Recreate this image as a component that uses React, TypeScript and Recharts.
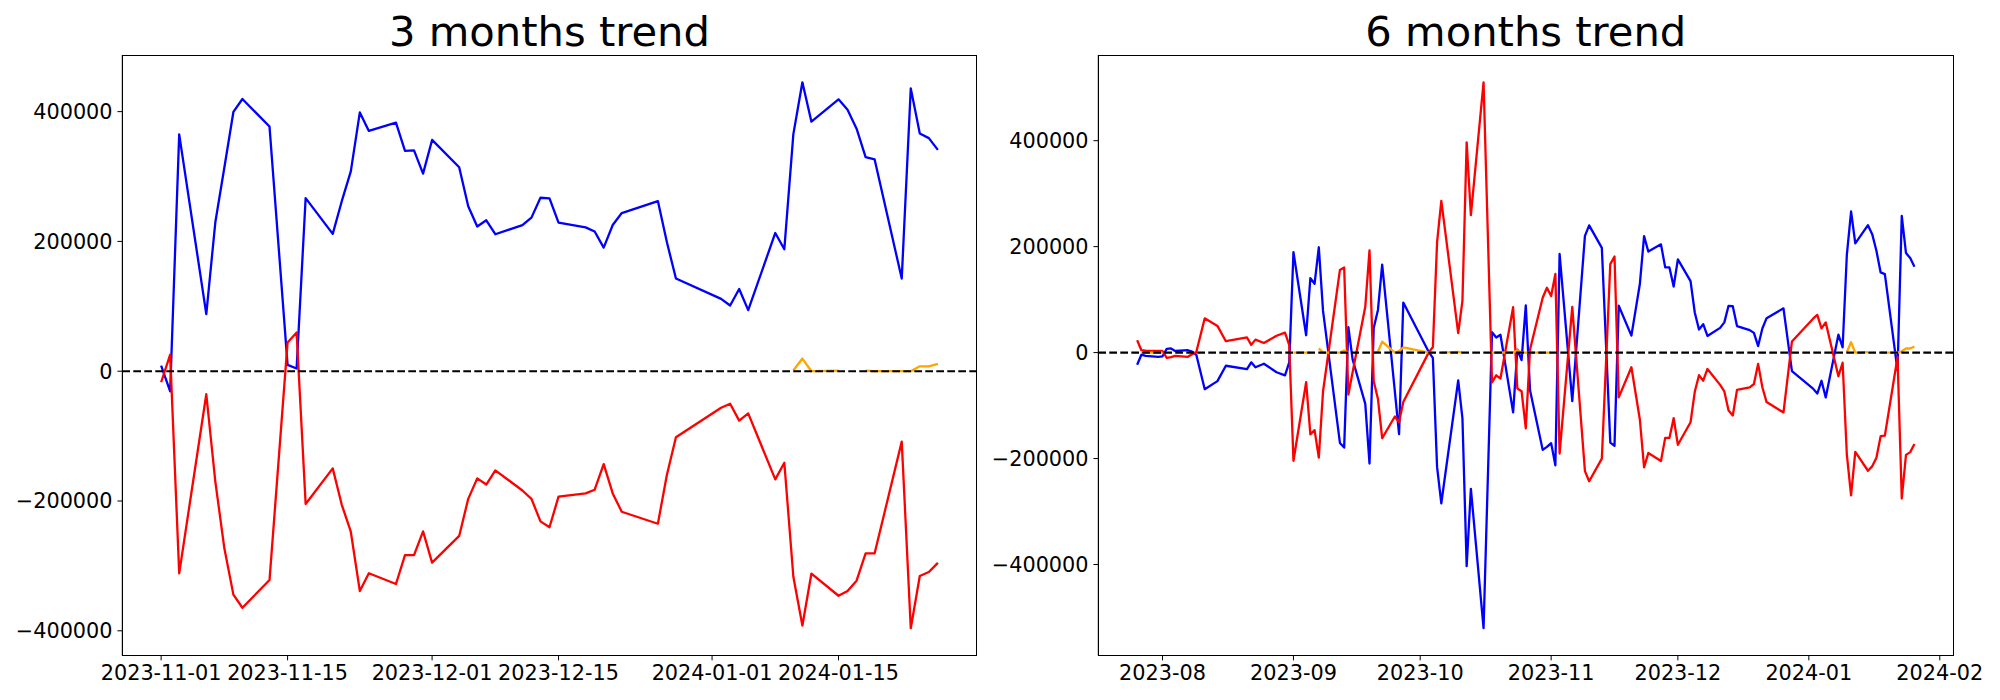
import { LineChart, Line, XAxis, YAxis, ReferenceLine } from "recharts";

// ---- 3 months trend (business days) ----
const dates3m = [
  "2023-11-01", "2023-11-02", "2023-11-03", "2023-11-06", "2023-11-07", "2023-11-08", "2023-11-09",
  "2023-11-10", "2023-11-13", "2023-11-15", "2023-11-16", "2023-11-17", "2023-11-20", "2023-11-21",
  "2023-11-22", "2023-11-23", "2023-11-24", "2023-11-27", "2023-11-28", "2023-11-29", "2023-11-30",
  "2023-12-01", "2023-12-04", "2023-12-05", "2023-12-06", "2023-12-07", "2023-12-08", "2023-12-11",
  "2023-12-12", "2023-12-13", "2023-12-14", "2023-12-15", "2023-12-18", "2023-12-19", "2023-12-20",
  "2023-12-21", "2023-12-22", "2023-12-26", "2023-12-27", "2023-12-28",
  "2024-01-02", "2024-01-03", "2024-01-04", "2024-01-05", "2024-01-08", "2024-01-09", "2024-01-10",
  "2024-01-11", "2024-01-12", "2024-01-15", "2024-01-16", "2024-01-17", "2024-01-18", "2024-01-19",
  "2024-01-22", "2024-01-23", "2024-01-24", "2024-01-25", "2024-01-26",
];
const blue3m = [
  8500, -31000, 365000, 88000, 229500, 314000, 399500, 419500, 377000, 9700, 4200, 266800, 211600,
  262000, 308000, 398800, 370300, 383100, 339600, 340400, 304500,
  356400, 314300, 254300, 223000, 232600, 211100, 225000, 236700, 267300, 266300, 229000, 221700,
  215300, 190500, 225300, 243700, 262100, 198600, 142800,
  111500, 101200, 126600, 94200, 213000, 188000, 365400, 445200, 384500, 418900, 403000, 373700,
  329900, 326300, 142800, 435800, 366200, 359200, 341000,
];
const red3m = [
  -17000, 25500, -311500, -35500, -170000, -272900, -344300, -364500, -321800, 44400, 59700, -204600,
  -149700, -205800, -247300, -338800, -311400, -327900, -283300, -283300, -246700,
  -295000, -253800, -196700, -165100, -174600, -152800, -183800, -196600, -231400, -240400, -193200,
  -188300, -182600, -143100, -188300, -216600, -235000, -159600, -101800,
  -56300, -50100, -76100, -65000, -166700, -141100, -316700, -391800, -311800, -346000, -338700,
  -322800, -280600, -280600, -108500, -396000, -315500, -309400, -295300,
];
const orangeDates3m = [
  "2024-01-10", "2024-01-11", "2024-01-12", "2024-01-15", "2024-01-16", "2024-01-17", "2024-01-18",
  "2024-01-19", "2024-01-22", "2024-01-23", "2024-01-24", "2024-01-25", "2024-01-26",
];
const orange3m = [1000, 19500, 0, 1000, null, null, 1000, 0, 0, 0, 7500, 7500, 11200];

// ---- 6 months trend ----
const dates6m = [
  "2023-07-26", "2023-07-27", "2023-07-28", "2023-07-31",
  "2023-08-01", "2023-08-02", "2023-08-03", "2023-08-04", "2023-08-07", "2023-08-08", "2023-08-09",
  "2023-08-11", "2023-08-14", "2023-08-16", "2023-08-21", "2023-08-22", "2023-08-23", "2023-08-25",
  "2023-08-28", "2023-08-30", "2023-08-31",
  "2023-09-01", "2023-09-04", "2023-09-05", "2023-09-06", "2023-09-07", "2023-09-08", "2023-09-12",
  "2023-09-13", "2023-09-14", "2023-09-15", "2023-09-18", "2023-09-19", "2023-09-20", "2023-09-21",
  "2023-09-22", "2023-09-25", "2023-09-26", "2023-09-27",
  "2023-10-03", "2023-10-04", "2023-10-05", "2023-10-06", "2023-10-10", "2023-10-11", "2023-10-12",
  "2023-10-13", "2023-10-16", "2023-10-18", "2023-10-19", "2023-10-20", "2023-10-23", "2023-10-24",
  "2023-10-25", "2023-10-26", "2023-10-27", "2023-10-30", "2023-10-31",
  "2023-11-01", "2023-11-02", "2023-11-03", "2023-11-06", "2023-11-09", "2023-11-10", "2023-11-13",
  "2023-11-15", "2023-11-16", "2023-11-17", "2023-11-20", "2023-11-22", "2023-11-23", "2023-11-24",
  "2023-11-27", "2023-11-28", "2023-11-29", "2023-11-30",
  "2023-12-01", "2023-12-04", "2023-12-05", "2023-12-06", "2023-12-07", "2023-12-08", "2023-12-11",
  "2023-12-12", "2023-12-13", "2023-12-14", "2023-12-15", "2023-12-18", "2023-12-19", "2023-12-20",
  "2023-12-21", "2023-12-22", "2023-12-26", "2023-12-28",
  "2024-01-02", "2024-01-03", "2024-01-04", "2024-01-05", "2024-01-08", "2024-01-09", "2024-01-10",
  "2024-01-11", "2024-01-12", "2024-01-15", "2024-01-16", "2024-01-17", "2024-01-18", "2024-01-19",
  "2024-01-22", "2024-01-23", "2024-01-24", "2024-01-25", "2024-01-26",
];
const blue6m = [
  -22800, -4000, -6000, -8000,
  -7000, 7200, 7800, 3000, 4500, 1700, -4000, -69000, -53800, -24800, -31300, -18400, -27600, -21100,
  -37000, -43000, -18400,
  189600, 32800, 140500, 130000, 198800, 78700, -170500, -179300, 48100, -12800, -96900, -209400,
  46500, 80600, 166100, -73000, -154000, 94500,
  1500, -10000, -216200, -284400, -52500, -124000, -403000, -257200, -520200, 38500, 28600, 33700,
  -112800, 5800, -14200, 89000, -71200, -183600, -178000,
  -170900, -212800, 186100, -91500, 220400, 240200, 197700, -169800, -175900, 88400, 32000, 129400,
  219800, 190700, 204300, 160800, 160800, 124800,
  175900, 134900, 75700, 43600, 53600, 31400, 46700, 57100, 88300, 87700, 50100, 42500, 37200, 12300,
  45500, 65000, 83500, -35100,
  -68000, -77400, -53200, -84600, 33900, 10000, 184600, 266300, 206000, 240500, 223600, 192200,
  151300, 148200, -33900, 258100, 187800, 178400, 162000,
];
const red6m = [
  23200, 4500, 3500, 3000,
  3000, -9800, -8500, -6000, -8000, -3000, 1000, 64700, 50400, 21500, 28600, 14600, 24500, 18100,
  31800, 37600, 14000,
  -204200, -55900, -154300, -146300, -198100, -73400, 156000, 160700, -79100, -37000, 86400, 193100,
  -54000, -87500, -161600, -120600, -131200, -93400,
  0, 10600, 208400, 286500, 36800, 97700, 396900, 259400, 510200, -56200, -42900, -49000, 85600,
  -67800, -72800, -142800, 5900, 103500, 122500,
  106800, 148400, -190600, 86200, -223700, -242800, -200100, 166900, 181300, -84600, -27600, -126300,
  -216600, -189600, -204600, -161000, -161000, -123800,
  -174000, -131400, -74000, -42600, -53000, -30900, -60900, -73300, -109500, -118700, -70300, -65500,
  -59300, -21200, -65500, -93400, -112900, 21100,
  64000, 71200, 45600, 56900, -44600, -19100, -192700, -269300, -187500, -223000, -214700, -198600,
  -157800, -156800, -8200, -275400, -193000, -187800, -172500,
];
const orangeDates6m = [
  "2023-07-27", "2023-07-28", "2023-07-31", "2023-08-01", "2023-08-02",
  "2023-09-01", "2023-09-04", "2023-09-05", "2023-09-06", "2023-09-07", "2023-09-08", "2023-09-12",
  "2023-09-13", "2023-09-14", "2023-09-15",
  "2023-09-20", "2023-09-21", "2023-09-22", "2023-09-25", "2023-09-26", "2023-09-27", "2023-10-03",
  "2023-10-04", "2023-10-05",
  "2023-10-06", "2023-10-10", "2023-10-11", "2023-10-12",
  "2023-10-18", "2023-10-19", "2023-10-20", "2023-10-23", "2023-10-24", "2023-10-25", "2023-10-26",
  "2023-10-27", "2023-10-30", "2023-10-31", "2023-11-01", "2023-11-02",
  "2024-01-10", "2024-01-11", "2024-01-12", "2024-01-15", "2024-01-16", "2024-01-18", "2024-01-19",
  "2024-01-22", "2024-01-23", "2024-01-24", "2024-01-25", "2024-01-26",
];
const orange6m = [
  0, 0, 0, 0, null,
  0, 0, 0, null, 8000, 0, 0, 3800, 0, null,
  0, 1500, 20500, 0, 3000, 10000, 0, 0, null,
  0, 1500, 0, null,
  0, 0, 500, 0, 4400, 0, 0, 0, 0, 0, 0, null,
  1000, 19500, 0, 1000, null, 1000, 0, 0, 2500, 7700, 7700, 11300,
];

const yTicks = [-400000, -200000, 0, 200000, 400000];
const ticks3m = ["2023-11-01", "2023-11-15", "2023-12-01", "2023-12-15", "2024-01-01", "2024-01-15"];
const ticks6m = [
  "2023-08-01", "2023-09-01", "2023-10-01", "2023-11-01", "2023-12-01", "2024-01-01", "2024-02-01",
];

const FONT = "'DejaVu Sans', sans-serif";
const tickStyle = { fill: "#000", fontSize: 20.8, fontFamily: FONT };
const LW = 2.3;
const PLOT_TOP = 55;
const PLOT_BOTTOM = 655.5;

function toTs(s: string) {
  const [y, m, d] = s.split("-").map(Number);
  return Date.UTC(y, m - 1, d);
}

function rows(dates: string[], values: (number | null)[]) {
  return dates.map((d, i) => ({ t: toTs(d), v: values[i] }));
}

// matplotlib-style 5% margins around the data
function padded(values: number[]): [number, number] {
  const lo = Math.min(...values);
  const hi = Math.max(...values);
  const pad = (hi - lo) * 0.05;
  return [lo - pad, hi + pad];
}

const fmtDay = (t: number) => new Date(t).toISOString().slice(0, 10);
const fmtMonth = (t: number) => new Date(t).toISOString().slice(0, 7);
const fmtNum = (v: number) => (v < 0 ? "\u2212" + Math.abs(v) : String(v));

type PanelProps = {
  title: string;
  left: number;
  width: number;
  axisWidth: number;
  marginRight: number;
  dates: string[];
  blue: number[];
  red: number[];
  orangeDates: string[];
  orange: (number | null)[];
  xTicks: string[];
  xFormat: (t: number) => string;
};

function TrendPanel(p: PanelProps) {
  const xDomain = padded(p.dates.map(toTs));
  const yDomain = padded([
    ...p.blue,
    ...p.red,
    ...(p.orange.filter((v) => v !== null) as number[]),
  ]);
  const plotLeft = p.left + p.axisWidth;
  const plotRight = p.left + p.width - p.marginRight;
  const series = [
    { key: "blue", data: rows(p.dates, p.blue), color: "#0000ff" },
    { key: "red", data: rows(p.dates, p.red), color: "#ff0000" },
    { key: "orange", data: rows(p.orangeDates, p.orange), color: "#ffa500" },
  ];

  return (
    <>
      <div
        style={{
          position: "absolute",
          left: plotLeft,
          width: plotRight - plotLeft,
          top: 11.4,
          textAlign: "center",
          fontFamily: FONT,
          fontSize: 41.67,
          lineHeight: 1,
          whiteSpace: "nowrap",
        }}
      >
        {p.title}
      </div>
      <div style={{ position: "absolute", left: p.left, top: 0 }}>
        <LineChart
          width={p.width}
          height={700}
          margin={{ top: PLOT_TOP, right: p.marginRight, bottom: 700 - PLOT_BOTTOM - 40, left: 0 }}
        >
          <XAxis
            dataKey="t"
            type="number"
            domain={xDomain}
            allowDataOverflow
            ticks={p.xTicks.map(toTs)}
            tickFormatter={p.xFormat}
            interval={0}
            height={40}
            tickSize={4.86}
            tickMargin={4.86}
            stroke="#000"
            tick={tickStyle}
          />
          <YAxis
            type="number"
            domain={yDomain}
            allowDataOverflow
            ticks={yTicks}
            tickFormatter={fmtNum}
            interval={0}
            width={p.axisWidth}
            tickSize={4.86}
            tickMargin={4.86}
            stroke="#000"
            tick={tickStyle}
          />
          {series.map((s) => (
            <Line
              key={s.key}
              data={s.data}
              dataKey="v"
              type="linear"
              stroke={s.color}
              strokeWidth={LW}
              style={{ strokeWidth: LW }}
              strokeLinejoin="round"
              dot={false}
              activeDot={false}
              isAnimationActive={false}
            />
          ))}
          <ReferenceLine y={0} stroke="#000" strokeWidth={2.08} strokeDasharray="7.7 3.3" />
        </LineChart>
      </div>
      {/* axes frame (matplotlib spines) */}
      <div
        style={{
          position: "absolute",
          left: plotLeft - 0.5,
          top: PLOT_TOP - 0.5,
          width: plotRight - plotLeft + 1,
          height: PLOT_BOTTOM - PLOT_TOP + 1,
          border: "1px solid #000",
          boxSizing: "border-box",
          pointerEvents: "none",
        }}
      />
    </>
  );
}

export default function App() {
  return (
    <div style={{ position: "absolute", left: 0, top: 0, width: 2000, height: 700, background: "#fff" }}>
      <TrendPanel
        title="3 months trend"
        left={0}
        width={1000}
        axisWidth={122.3}
        marginRight={23.3}
        dates={dates3m}
        blue={blue3m}
        red={red3m}
        orangeDates={orangeDates3m}
        orange={orange3m}
        xTicks={ticks3m}
        xFormat={fmtDay}
      />
      <TrendPanel
        title="6 months trend"
        left={980}
        width={1020}
        axisWidth={118.3}
        marginRight={46.7}
        dates={dates6m}
        blue={blue6m}
        red={red6m}
        orangeDates={orangeDates6m}
        orange={orange6m}
        xTicks={ticks6m}
        xFormat={fmtMonth}
      />
    </div>
  );
}
